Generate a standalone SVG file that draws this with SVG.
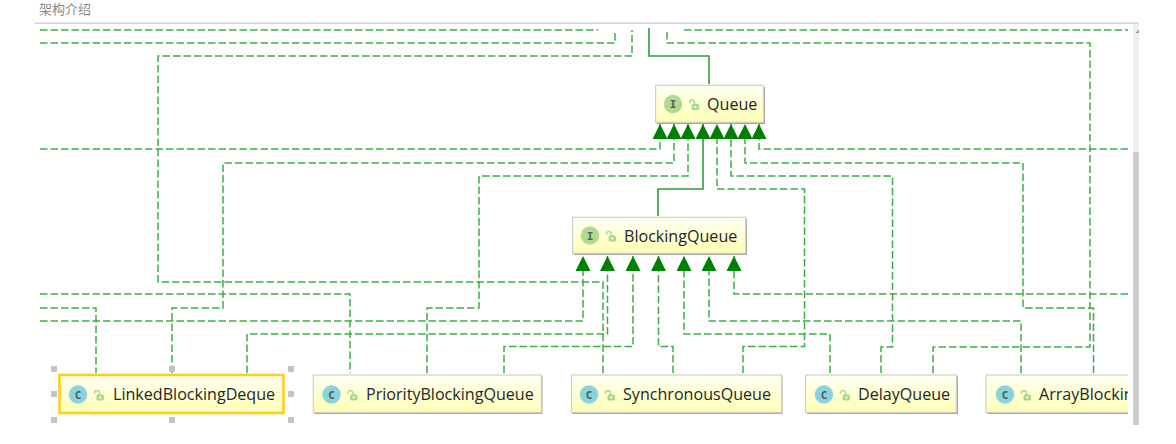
<svg xmlns="http://www.w3.org/2000/svg" width="1176" height="444" viewBox="0 0 1176 444">
  <style>
    .title { font: 13px "Noto Sans CJK SC", "Liberation Sans", sans-serif; fill: #8a8a8a; }
    .dep { fill: none; stroke: #3fae4a; stroke-width: 1.5; stroke-dasharray: 7.5 3; }
    .ext { fill: none; stroke: #2f9e35; stroke-width: 1.6; }
    .box { fill: url(#nodeFill); stroke: #d0d0ca; stroke-width: 1.2; }
    .shadow { fill: #a4a4a4; }
    .selected { fill: url(#nodeFill); stroke: #ffcc22; stroke-width: 2.6; }
    .label { font: 16.100px "Open Sans", "Noto Sans", sans-serif; fill: #22262c; }
    .kind { font: 600 11px "DejaVu Sans Mono", monospace; fill: #4f5f5a; text-anchor: middle; }
    .iface { fill: #b0da92; }
    .cls { fill: #8ad3dc; }
    .handle { fill: #c4c4c4; }
  </style>
  <defs>
    <linearGradient id="nodeFill" x1="0" y1="0" x2="0" y2="1">
      <stop offset="0" stop-color="#fffff4"/>
      <stop offset="1" stop-color="#ffffb4"/>
    </linearGradient>
    <marker id="head" markerUnits="userSpaceOnUse" viewBox="0 0 15 15" markerWidth="15" markerHeight="15" refX="15" refY="7.500" orient="auto">
      <path d="M0 0L15 7.500L0 15Z" fill="#008000"/>
    </marker>
    <g id="lock">
      <rect x="-2.500" y="0" width="7.500" height="6" rx="1.600" fill="#a6d98c"/>
      <path d="M0.500 0.500V-2A2.700 2.700 0 0 0 -4.500 -2.400V-0.800" fill="none" stroke="#a6d98c" stroke-width="1.500"/>
      <rect x="0" y="2" width="2.500" height="1.800" fill="#f6fbd0"/>
    </g>
    <clipPath id="viewEdge"><rect x="900" y="360" width="228" height="70"/></clipPath>
  </defs>

  <rect width="1176" height="444" fill="#ffffff"/>

  <!-- page heading and panel chrome -->
  <text class="title" x="39" y="14">架构介绍</text>
  <rect x="35" y="22.500" width="1104" height="1.400" fill="#d2d2d2"/>
  <rect x="1133" y="24" width="6" height="128" fill="#f0f0f0"/>
  <rect x="1133" y="152" width="6" height="273" fill="#cccccc"/>
  <path d="M1136 33L1138.500 29.500V33Z" fill="#777777"/>

  <g id="connectors">
    <!-- upper bundle -->
    <path class="dep" d="M40 30H598"/>
    <path class="dep" d="M40 43H615V30"/>
    <path class="dep" d="M603 373V282H158V56H632V30"/>
    <path class="dep" d="M684 30H1128"/>
    <path class="dep" d="M933 373V347H1090V43H667V29"/>
    <path class="ext" d="M709 84V56H649V28"/>

    <!-- into Queue -->
    <path class="dep" d="M40 149H660V124" marker-end="url(#head)"/>
    <path class="dep" d="M172 373V308H223V163H674V124" marker-end="url(#head)"/>
    <path class="dep" d="M427 373V308H479V176H688V124" marker-end="url(#head)"/>
    <path class="ext" d="M658 216V189H703V124" marker-end="url(#head)"/>
    <path class="dep" d="M743 373V346.500H804.500V189H717V124" marker-end="url(#head)"/>
    <path class="dep" d="M881 373V347H892.500V176H731V124" marker-end="url(#head)"/>
    <path class="dep" d="M1093.500 373V308H1023V163H745V124" marker-end="url(#head)"/>
    <path class="dep" d="M1128 149H759V124" marker-end="url(#head)"/>

    <!-- into BlockingQueue -->
    <path class="dep" d="M40 321H583V256" marker-end="url(#head)"/>
    <path class="dep" d="M247 373V334H607.500V256" marker-end="url(#head)"/>
    <path class="dep" d="M504 373V346.500H633V256" marker-end="url(#head)"/>
    <path class="dep" d="M673 373V346.500H658.500V256" marker-end="url(#head)"/>
    <path class="dep" d="M830 373V334H684V256" marker-end="url(#head)"/>
    <path class="dep" d="M1021 373V321H709V256" marker-end="url(#head)"/>
    <path class="dep" d="M1128 294H734V256" marker-end="url(#head)"/>

    <!-- left-hand stubs -->
    <path class="dep" d="M40 294H350V373"/>
    <path class="dep" d="M40 308H96V373"/>
  </g>

  <g id="node-queue">
    <rect class="shadow" x="657" y="87" width="108" height="37"/>
    <rect class="box" x="655.600" y="85.300" width="108" height="37"/>
    <circle class="iface" cx="673" cy="104" r="9.200"/>
    <text class="kind" x="673" y="108">I</text>
    <use href="#lock" x="694" y="104"/>
    <text class="label" x="707" y="110">Queue</text>
  </g>

  <g id="node-blocking-queue">
    <rect class="shadow" x="574" y="219" width="173" height="36"/>
    <rect class="box" x="572.600" y="217.300" width="173" height="36"/>
    <circle class="iface" cx="590" cy="235.500" r="9.200"/>
    <text class="kind" x="590" y="239.500">I</text>
    <use href="#lock" x="611" y="235.500"/>
    <text class="label" x="624" y="241.500">BlockingQueue</text>
  </g>

  <g id="node-linked-blocking-deque">
    <rect class="selected" x="59.500" y="375" width="224" height="38"/>
    <circle class="cls" cx="78" cy="394.500" r="9.200"/>
    <text class="kind" x="78" y="398.500">C</text>
    <use href="#lock" x="99" y="394.500"/>
    <text class="label" x="113" y="400">LinkedBlockingDeque</text>
    <rect class="handle" x="51" y="366" width="6" height="6"/>
    <rect class="handle" x="169" y="366" width="6" height="6"/>
    <rect class="handle" x="288" y="366" width="6" height="6"/>
    <rect class="handle" x="51" y="391" width="6" height="6"/>
    <rect class="handle" x="288" y="391" width="6" height="6"/>
    <rect class="handle" x="51" y="417" width="6" height="6"/>
    <rect class="handle" x="169" y="417" width="6" height="6"/>
    <rect class="handle" x="288" y="417" width="6" height="6"/>
  </g>

  <g id="node-priority-blocking-queue">
    <rect class="shadow" x="314.500" y="376.500" width="228" height="37.500"/>
    <rect class="box" x="313.300" y="375" width="228" height="37.500"/>
    <circle class="cls" cx="331.500" cy="394.500" r="9.200"/>
    <text class="kind" x="331.500" y="398.500">C</text>
    <use href="#lock" x="352.500" y="394.500"/>
    <text class="label" x="366" y="400">PriorityBlockingQueue</text>
  </g>

  <g id="node-synchronous-queue">
    <rect class="shadow" x="572.500" y="376.500" width="210" height="37.500"/>
    <rect class="box" x="571.500" y="375" width="210" height="37.500"/>
    <circle class="cls" cx="589" cy="394.500" r="9.200"/>
    <text class="kind" x="589" y="398.500">C</text>
    <use href="#lock" x="610" y="394.500"/>
    <text class="label" x="623" y="400">SynchronousQueue</text>
  </g>

  <g id="node-delay-queue">
    <rect class="shadow" x="807" y="376.500" width="151" height="37.500"/>
    <rect class="box" x="805.500" y="375" width="151" height="37.500"/>
    <circle class="cls" cx="824" cy="394.500" r="9.200"/>
    <text class="kind" x="824" y="398.500">C</text>
    <use href="#lock" x="845" y="394.500"/>
    <text class="label" x="858" y="400">DelayQueue</text>
  </g>

  <g id="node-array-blocking-queue" clip-path="url(#viewEdge)">
    <rect class="shadow" x="987.500" y="376.500" width="200" height="37.500"/>
    <rect class="box" x="986" y="375" width="200" height="37.500"/>
    <circle class="cls" cx="1005" cy="394.500" r="9.200"/>
    <text class="kind" x="1005" y="398.500">C</text>
    <use href="#lock" x="1026" y="394.500"/>
    <text class="label" x="1039" y="400">ArrayBlockin</text>
  </g>
</svg>
